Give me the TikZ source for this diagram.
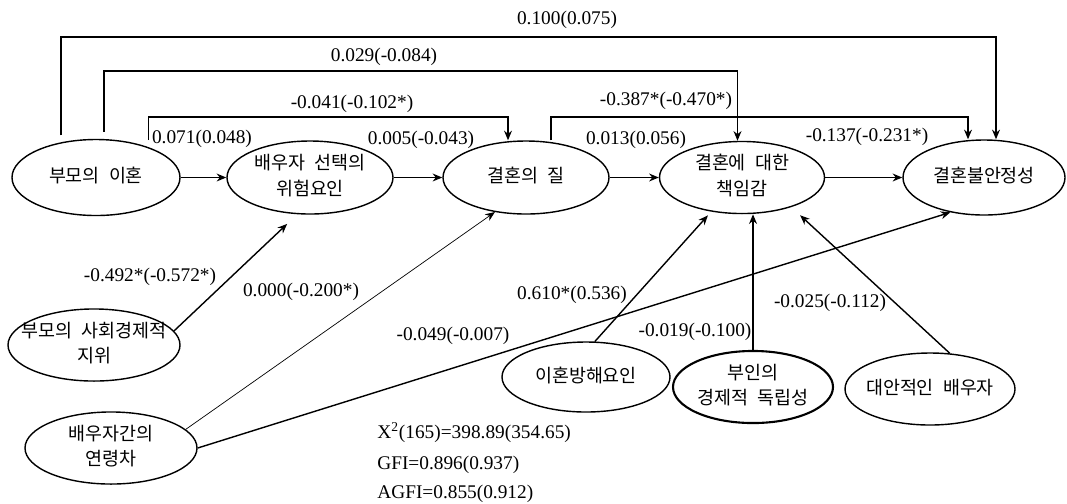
\documentclass[tikz,border=0pt]{standalone}
\usepackage{fontspec}
\setmainfont{Liberation Serif}
\newfontfamily\kr[WordSpace=2.2]{Noto Sans CJK KR}
\usetikzlibrary{positioning, arrows, arrows.meta, shapes.geometric}
\newcommand{\kl}[1]{\makebox[0pt]{\kr\fontsize{10.5}{14.5}\selectfont\begin{tabular}{@{}c@{}}#1\end{tabular}}}

\begin{document}
\begin{tikzpicture}[node distance=4.32cm, >={Stealth[length=5.5pt,width=4.5pt]}]
\tikzstyle{every node}=[font=\fontsize{11}{13}\selectfont]
\tikzstyle{lv}=[ellipse, draw, thick, inner sep=0pt, minimum width=3.32cm, minimum height=1.46cm]
\tikzstyle{every edge}=[draw,->,thick]
\useasboundingbox (0,0) rectangle (21.34,-10.06);

\node[lv, minimum width=3.36cm, minimum height=1.52cm] (P) at (1.92,-3.55) {\kl{부모의 이혼}};
\node[lv, right of=P, node distance=4.28cm] (R) {\kl{배우자 선택의\\위험요인}};
\node[lv, right of=R] (Q) {\kl{결혼의 질}};
\node[lv, right of=Q, minimum width=3.3cm, minimum height=1.44cm] (C) {\kl{결혼에 대한\\책임감}};
\node[lv, right of=C, node distance=4.84cm, minimum width=3.24cm, minimum height=1.5cm] (U) {\kl{결혼불안정성}};

\node[lv, minimum width=3.44cm, minimum height=1.4cm] (S) at (1.88,-6.90) {\kl{부모의 사회경제적\\지위}};
\node[lv, minimum width=3.44cm, minimum height=1.4cm] (A) at (2.22,-8.96) {\kl{배우자간의\\연령차}};
\node[lv, minimum width=3.36cm, minimum height=1.4cm] (B) at (11.72,-7.54) {\kl{이혼방해요인}};
\node[lv, very thick, minimum width=3.2cm, minimum height=1.4cm] (W) at (15.06,-7.74) {\kl{부인의\\경제적 독립성}};
\node[lv, minimum width=3.4cm, minimum height=1.44cm] (T) at (18.60,-7.78) {\kl{대안적인 배우자}};

\coordinate (h1) at (11.34,-0.74);
\coordinate (h2) at (7.68,-1.42);
\coordinate (h3) at (7.04,-2.34);
\coordinate (h4) at (13.32,-2.34);

\draw (P) edge (R) (R) edge (Q) (Q) edge (C) (C) edge (U);
\draw[->, thick, shorten <=4pt] (P.135) |- (h1) -| ([xshift=0.24cm]U.north);
\draw[->, thick, shorten <=4pt] (P.78) |- (h2) -| ([xshift=-0.09cm]C.north);
\draw[->, thick, shorten <=4pt] (P.30) |- (h3) -| ([xshift=-0.36cm]Q.north);
\draw[->, thick] ([xshift=0.5cm]Q.north) |- (h4) -| ([xshift=-0.32cm]U.north);

\draw (S.10) edge[shorten >=0.28cm] (R.251);
\draw (A.14) edge[thin] (Q.228);
\draw (A.0) edge (U.226);
\draw (B.76) edge[shorten >=0.1cm] (C.228);
\draw (W) edge (W |- C.south);
\draw (T.61) edge[shorten >=0.24cm] (C.-31);

\node (L1) at (11.34,-0.40) {0.100(0.075)};
\node (L2) at (7.68,-1.14) {0.029(-0.084)};
\node (L3) at (7.04,-2.08) {-0.041(-0.102*)};
\node (L4) at (13.32,-2.02) {-0.387*(-0.470*)};
\node (L5) at (4.04,-2.78) {0.071(0.048)};
\node (L6) at (8.42,-2.80) {0.005(-0.043)};
\node (L7) at (12.72,-2.80) {0.013(0.056)};
\node (L8) at (17.34,-2.74) {-0.137(-0.231*)};
\node (L9) at (3.00,-5.54) {-0.492*(-0.572*)};
\node (L10) at (6.02,-5.84) {0.000(-0.200*)};
\node (L11) at (9.06,-6.72) {-0.049(-0.007)};
\node (L12) at (11.44,-5.90) {0.610*(0.536)};
\node (L13) at (13.90,-6.64) {-0.019(-0.100)};
\node (L14) at (16.60,-6.06) {-0.025(-0.112)};

\node[anchor=base west, inner sep=0pt] (F1) at (7.54,-8.76) {X\textsuperscript{2}(165)=398.89(354.65)};
\node[anchor=base west, inner sep=0pt] (F2) at (7.54,-9.38) {GFI=0.896(0.937)};
\node[anchor=base west, inner sep=0pt] (F3) at (7.54,-9.96) {AGFI=0.855(0.912)};
\end{tikzpicture}
\end{document}
